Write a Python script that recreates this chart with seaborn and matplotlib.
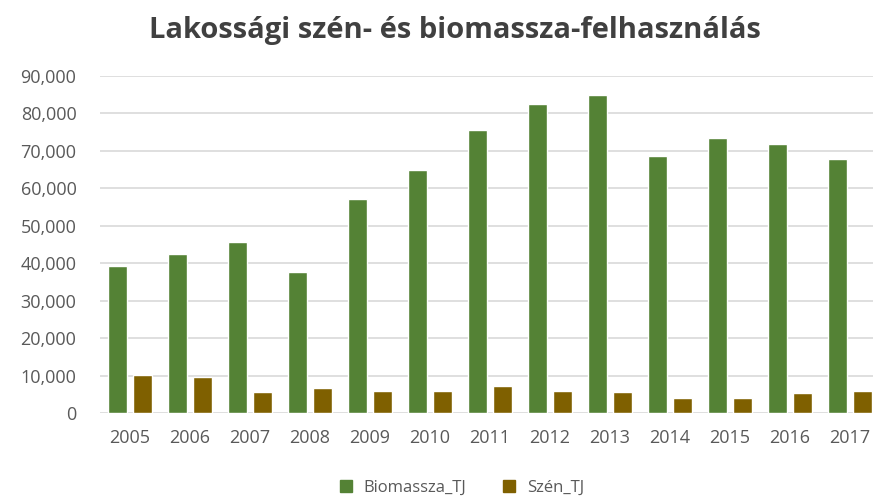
import numpy as np
import pandas as pd
import seaborn as sns
import matplotlib.pyplot as plt
from matplotlib.ticker import FuncFormatter

# Chart data (TJ)
years = ['2005', '2006', '2007', '2008', '2009', '2010', '2011',
         '2012', '2013', '2014', '2015', '2016', '2017']
biomassza_tj = [39400, 42500, 45600, 37800, 57100, 64900, 75600,
                82500, 84900, 68600, 73400, 71800, 67800]
szen_tj = [10200, 9600, 5800, 6700, 6000, 6000, 7300,
           6000, 5800, 4000, 4000, 5300, 6000]
series_names = ['Biomassza_TJ', 'Szén_TJ']
colors = ['#548235', '#7F6000']

df = pd.DataFrame({
    'Év': years * 2,
    'TJ': biomassza_tj + szen_tj,
    'Sorozat': [series_names[0]] * len(years) + [series_names[1]] * len(years),
})

sns.set_theme(style="white")
plt.rcParams['font.family'] = ['Open Sans', 'DejaVu Sans']

fig = plt.figure(figsize=(8.73, 5.01), dpi=100)
ax = fig.add_axes([100 / 873, 1 - 413.3 / 501, 780 / 873, (413.3 - 76) / 501])

sns.barplot(data=df, x='Év', y='TJ', hue='Sorozat', palette=colors,
            width=0.82, gap=0.25, saturation=1, ax=ax, legend=False)

ax.set_ylim(0, 90000)
ax.set_yticks(np.arange(0, 90001, 10000))
ax.yaxis.set_major_formatter(FuncFormatter(lambda v, p: f'{int(v):,}'))
ax.grid(axis='y', color='#D9D9D9', linewidth=1.2)
ax.set_axisbelow(True)
for s in ax.spines.values():
    s.set_visible(False)
ax.tick_params(axis='both', length=0, labelsize=13, labelcolor='#595959')
ax.tick_params(axis='y', pad=17)
ax.tick_params(axis='x', pad=11)
ax.set_xlabel('')
ax.set_ylabel('')

fig.text(0.521, 0.94, 'Lakossági szén- és biomassza-felhasználás',
         ha='center', va='center', fontsize=21, fontweight='bold', color='#404040')

# legend
handles = [plt.Line2D([], [], marker='s', linestyle='', markersize=8, color=c) for c in colors]
fig.legend(handles, series_names, loc='center', bbox_to_anchor=(0.523, 0.026),
           ncol=2, frameon=False, fontsize=12, handletextpad=0.05, columnspacing=1.6,
           labelcolor='#595959')

fig.savefig('out.png', dpi=100)
